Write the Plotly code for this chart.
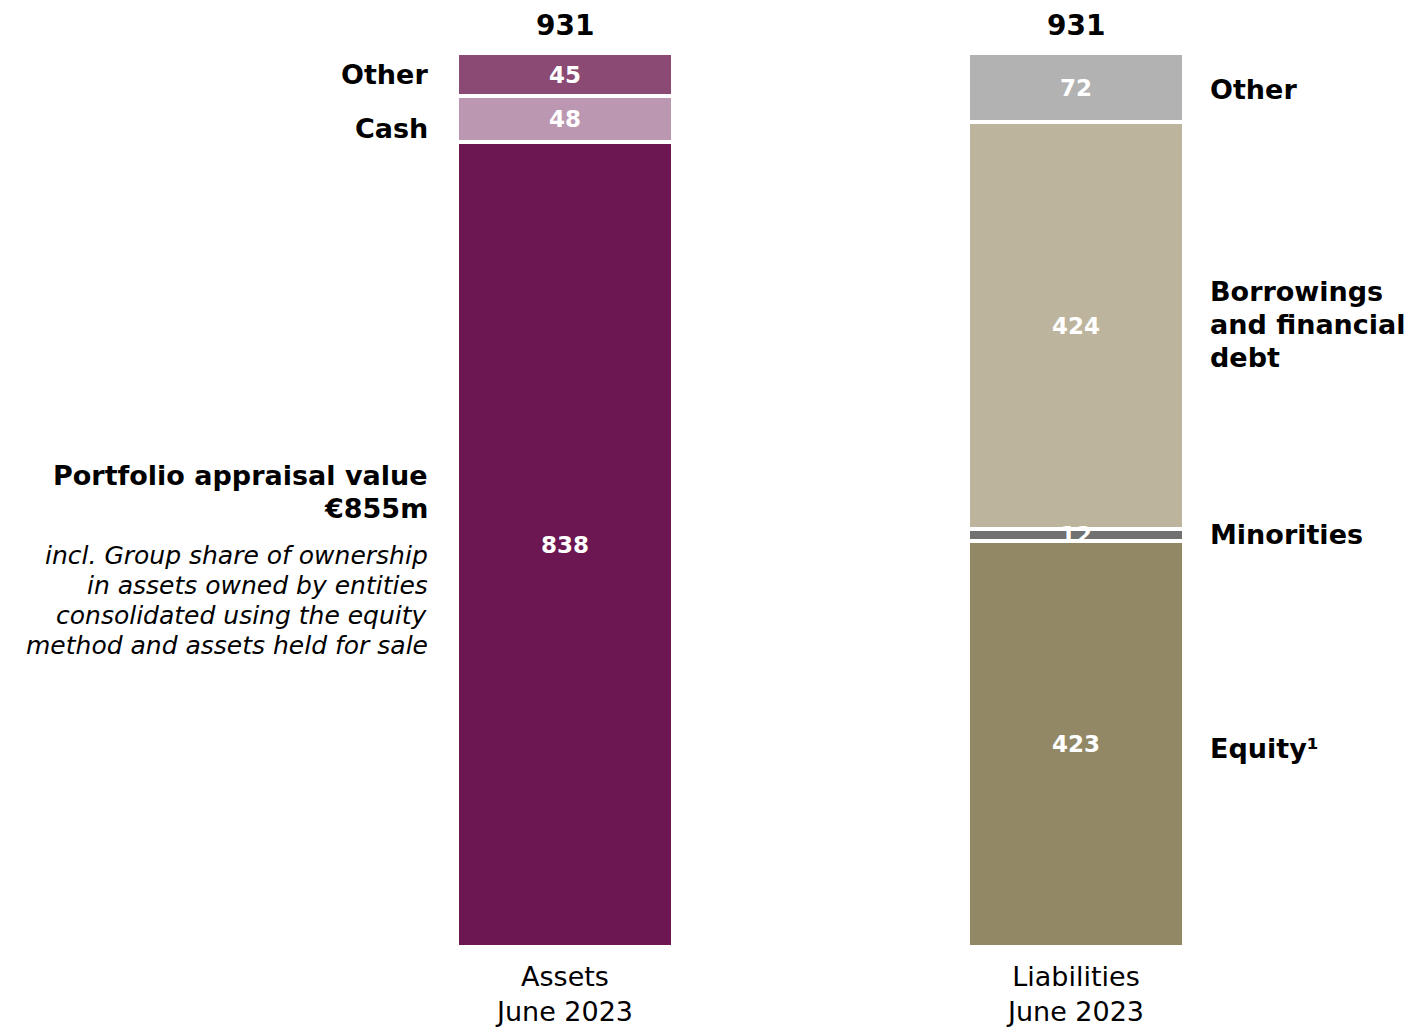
import plotly.graph_objects as go

# Data
columns = ["Assets<br>June 2023", "Liabilities<br>June 2023"]
asset_labels = ["Portfolio appraisal value", "Cash", "Other"]
asset_values = [838, 48, 45]
liability_labels = ["Equity¹", "Minorities", "Borrowings and financial debt", "Other"]
liability_values = [423, 12, 424, 72]
totals = [931, 931]
portfolio_title = ["Portfolio appraisal value", "€855m"]
portfolio_note = ["incl. Group share of ownership", "in assets owned by entities",
                  "consolidated using the equity", "method and assets held for sale"]

# Styles
asset_colors = ["#6D1752", "#BC97B2", "#8B4A73"]
liability_colors = ["#928865", "#717171", "#BCB49C", "#B2B2B2"]
FONT = "DejaVu Sans"

fig = go.Figure()

def mids(values):
    out, c = [], 0
    for v in values:
        out.append(c + v / 2)
        c += v
    return out

annotations = []

def add_stack(xpos, values, colors, names):
    for v, c, n, m in zip(values, colors, names, mids(values)):
        fig.add_trace(go.Bar(
            x=[xpos], y=[v], name=n, width=0.423,
            marker=dict(color=c, line=dict(color="white", width=4)),
            hoverinfo="skip", showlegend=False,
        ))
        annotations.append(dict(x=xpos, y=m, xref="x", yref="y", text=f"<b>{v}</b>",
                                showarrow=False, xanchor="center", yanchor="middle",
                                font=dict(family=FONT, size=23, color="white")))

add_stack(0, asset_values, asset_colors, asset_labels)
add_stack(1, liability_values, liability_colors, liability_labels)

for i, t in enumerate(totals):
    annotations.append(dict(x=i, y=t, xref="x", yref="y", text=f"<b>{t}</b>",
                            showarrow=False, yanchor="bottom", yshift=9,
                            font=dict(family=FONT, size=28, color="black")))

def add_lines(x, y, lines, shifts, anchor, size, italic=False, bold=True):
    for line, s in zip(lines, shifts):
        t = line
        if bold:
            t = f"<b>{t}</b>"
        if italic:
            t = f"<i>{t}</i>"
        annotations.append(dict(x=x, y=y, xref="x", yref="y", text=t, showarrow=False,
                                xanchor=anchor, yanchor="middle", yshift=s,
                                font=dict(family=FONT, size=size, color="black")))

am = mids(asset_values)
lm = mids(liability_values)
left_x = -0.264
right_x = 1.258

add_lines(left_x, am[2], [asset_labels[2]], [0], "right", 27)
add_lines(left_x, am[1], [asset_labels[1]], [-9], "right", 27)
add_lines(left_x, am[0], portfolio_title, [69.6, 36.6], "right", 27)
add_lines(left_x, am[0], portfolio_note, [-10.4, -40.4, -70.4, -100.4], "right", 25,
          italic=True, bold=False)

add_lines(right_x, lm[3], [liability_labels[3]], [-2], "left", 27)
add_lines(right_x, lm[2], ["Borrowings", "and financial", "debt"], [34.7, 1.7, -31.3], "left", 27)
add_lines(right_x, lm[1], [liability_labels[1]], [1], "left", 27)
add_lines(right_x, lm[0], [liability_labels[0]], [-5], "left", 27)

fig.update_layout(
    barmode="stack",
    width=1409, height=1019,
    margin=dict(l=0, r=0, t=0, b=80),
    paper_bgcolor="white", plot_bgcolor="white",
    annotations=annotations,
    xaxis=dict(range=[-1.0900, 1.6673], tickvals=[0, 1], ticktext=columns,
               showgrid=False, zeroline=False, showline=False, ticks="",
               ticklabelstandoff=11, automargin=False,
               tickfont=dict(family=FONT, size=27, color="black")),
    yaxis=dict(range=[0, 977.9], visible=False, showgrid=False, zeroline=False,
               automargin=False),
)

fig.write_html("out.html")
